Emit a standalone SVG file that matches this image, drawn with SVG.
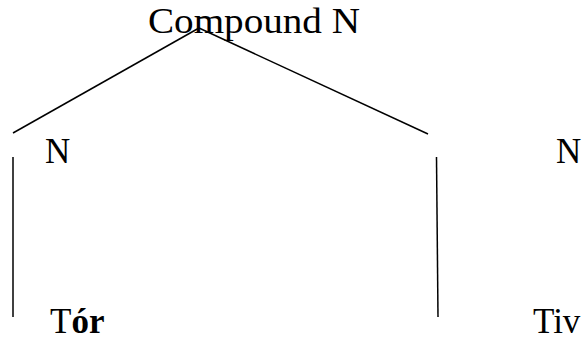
<svg xmlns="http://www.w3.org/2000/svg" width="584" height="341" viewBox="0 0 584 341">
<style>
.t{font-family:"Liberation Serif","Times New Roman",serif;font-size:35px;fill:#000}
.b{font-weight:bold}
.c{stroke:#000;stroke-width:1.5;fill:none}
</style>
<rect width="584" height="341" fill="#fff"/>
<g id="connectors">
<line class="c" x1="13" y1="133" x2="199" y2="28"/>
<line class="c" x1="199" y1="28" x2="428" y2="134"/>
<line class="c" x1="13" y1="157" x2="13" y2="317"/>
<line class="c" x1="436.5" y1="157" x2="438" y2="317"/>
</g>
<g id="compound"><text class="t" x="148" y="33" textLength="212" lengthAdjust="spacingAndGlyphs">Compound N</text></g>
<g id="n1"><text class="t" x="45" y="163">N</text></g>
<g id="n2"><text class="t" x="556" y="163">N</text></g>
<g id="tor"><text class="t" x="50" y="333">T<tspan class="b">ór</tspan></text></g>
<g id="tiv"><text class="t" x="533" y="333">Tiv</text></g>
</svg>
